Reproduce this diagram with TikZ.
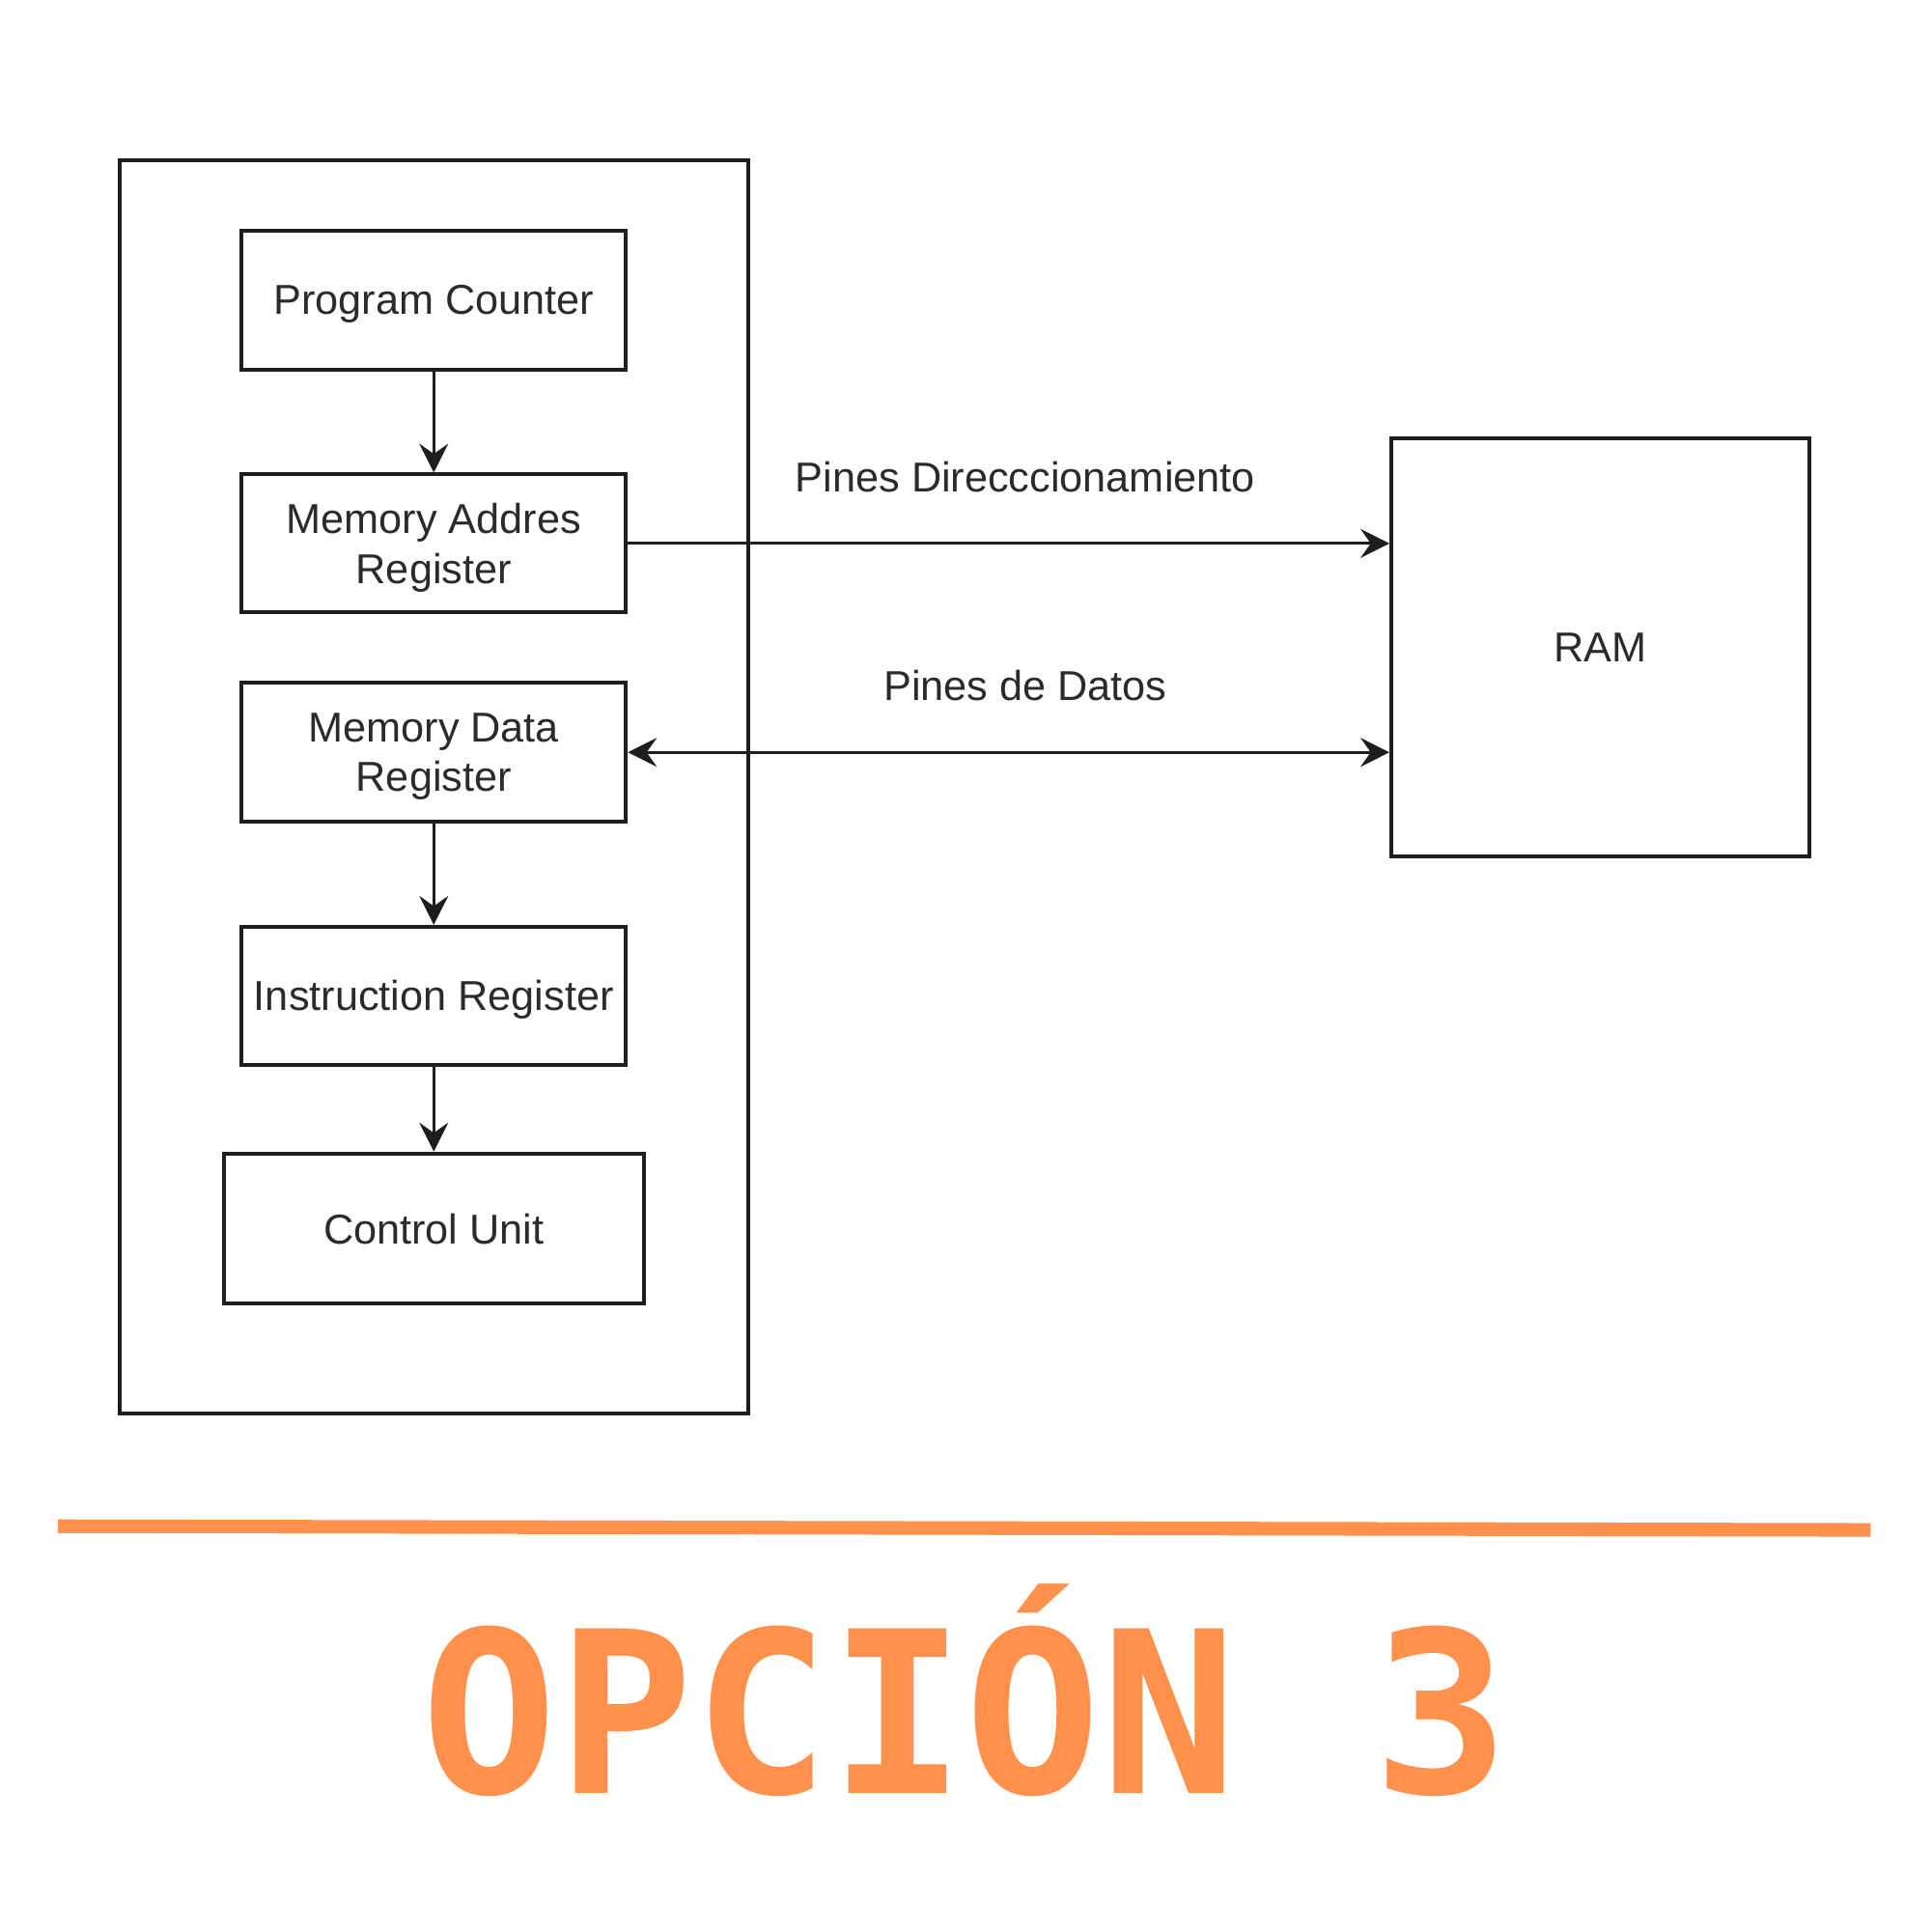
\documentclass[tikz,border=0pt]{standalone}
\usepackage{fontspec}
\setmainfont{Liberation Sans}
\newfontfamily\orangefont{DejaVu Sans Mono}
\usetikzlibrary{arrows.meta}
\definecolor{linegray}{HTML}{1E1E1E}
\definecolor{textgray}{HTML}{2B2B2B}
\definecolor{canvaorange}{HTML}{FF914D}
\newdimen\dunit
\dunit=0.012763cm
\tikzset{
  regbox/.style={draw=linegray, line width=1.1pt, rectangle, inner sep=0pt, align=center,
    text depth=0pt, text=textgray, font=\fontsize{12.3}{14.6}\selectfont},
  plainlabel/.style={inner sep=0pt, text=textgray, font=\fontsize{12.3}{14.6}\selectfont},
  flowarrow/.style={draw=linegray, line width=0.9pt, -{Stealth[length=8.5pt, width=8.5pt, inset=3pt]}},
  botharrow/.style={draw=linegray, line width=0.9pt, {Stealth[length=8.5pt, width=8.5pt, inset=3pt]}-{Stealth[length=8.5pt, width=8.5pt, inset=3pt]}}
}
\begin{document}
\begin{tikzpicture}[x=0.012763cm, y=-0.012763cm]
\useasboundingbox (0,0) rectangle (1567,1567);
\fill[white] (0,0) rectangle (1567,1567);

% outer CPU frame
\node[draw=linegray, line width=1.2pt, rectangle, inner sep=0pt,
  minimum width=510\dunit, minimum height=1017\dunit] (cpu) at (352,638.5) {};

% registers
\node[regbox, minimum width=312\dunit, minimum height=113\dunit] (pc) at (352,243.5) {Program Counter};
\node[regbox, minimum width=312\dunit, minimum height=112\dunit] (mar) at (352,441) {Memory Addres\\Register};
\node[regbox, minimum width=312\dunit, minimum height=113\dunit] (mdr) at (352,610.5) {Memory Data\\Register};
\node[regbox, minimum width=312\dunit, minimum height=112\dunit] (ir) at (352,808) {Instruction Register};
\node[regbox, minimum width=341\dunit, minimum height=122\dunit] (cu) at (352,997) {Control Unit};

% RAM
\node[regbox, minimum width=339\dunit, minimum height=339\dunit] (ram) at (1298.5,525.5) {RAM};

% labels
\node[plainlabel] (laddr) at (832,387) {Pines Direcccionamiento};
\node[plainlabel] (ldata) at (832,556) {Pines de Datos};

% connectors
\draw[flowarrow] (pc.south) -- (mar.north);
\draw[flowarrow] (mdr.south) -- (ir.north);
\draw[flowarrow] (ir.south) -- (cu.north);
\draw[flowarrow] (mar.east) -- (mar.east -| ram.west);
\draw[botharrow] (mdr.east) -- (mdr.east -| ram.west);

% orange rule and title
\coordinate (ruleL) at (47,1238.5);
\coordinate (ruleR) at (1518,1241.5);
\draw[canvaorange, line width=4pt] (ruleL) -- (ruleR);
\node[anchor=base, inner sep=0pt, text=canvaorange,
  font=\orangefont\bfseries\fontsize{66.5}{68}\selectfont] (title) at (783.5,1455) {OPCIÓN 3};
\end{tikzpicture}
\end{document}
